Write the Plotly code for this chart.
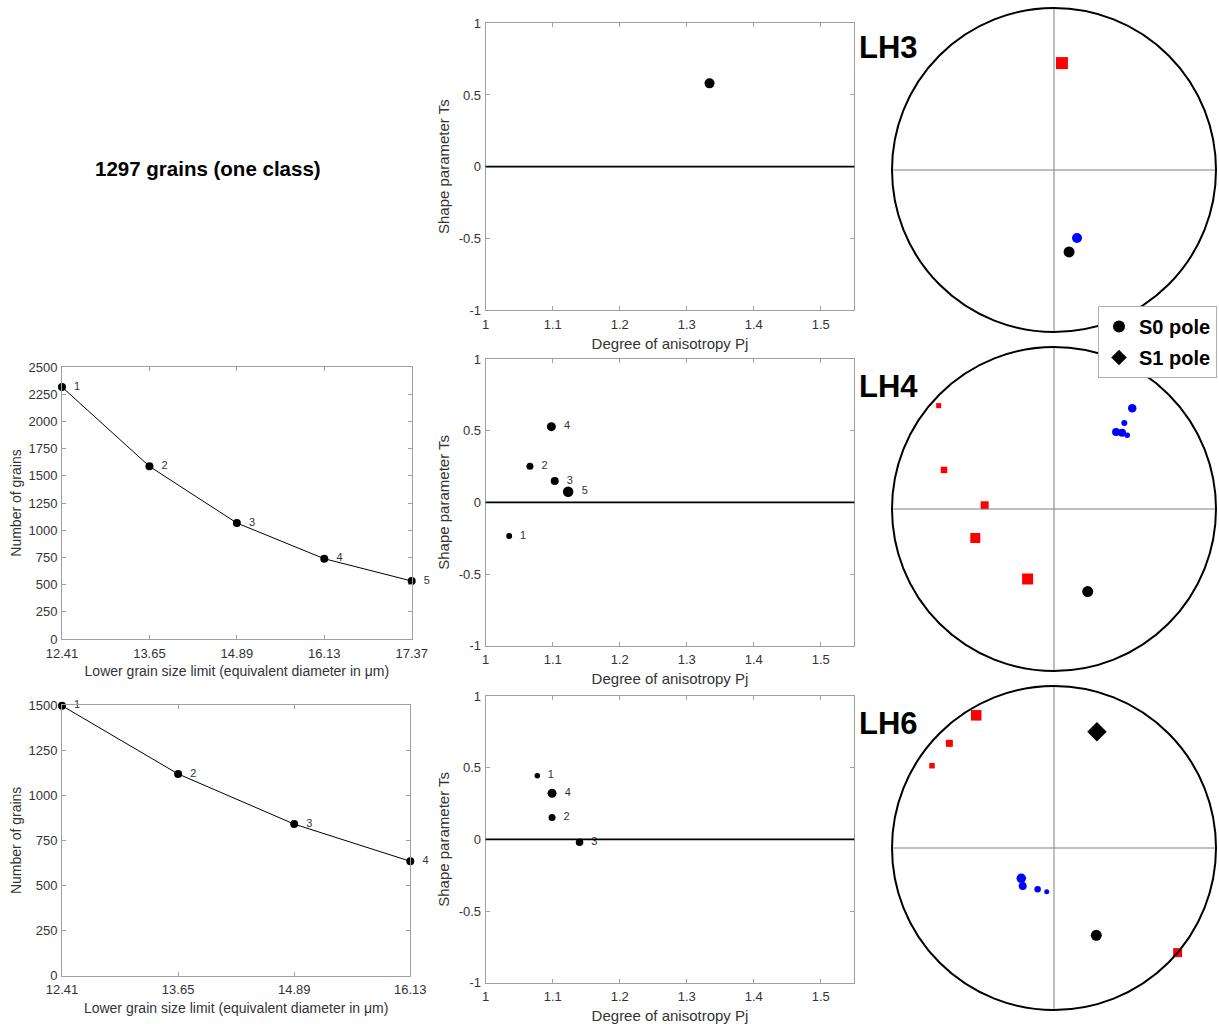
import plotly.graph_objects as go

W, H = 1219, 1027

# ---------------- data ----------------
grain_limits_lh4 = [12.41, 13.65, 14.89, 16.13, 17.37]
grains_lh4 = [2316, 1587, 1066, 738, 533]
grain_limits_lh6 = [12.41, 13.65, 14.89, 16.13]
grains_lh6 = [1496, 1118, 840, 634]

pj_lh3 = [1.334]
ts_lh3 = [0.581]
pj_lh4 = [1.035, 1.066, 1.103, 1.098, 1.123]
ts_lh4 = [-0.235, 0.251, 0.149, 0.528, 0.074]
size_lh4 = [6, 7, 8, 9, 10.5]
pj_lh6 = [1.077, 1.099, 1.140, 1.099]
ts_lh6 = [0.444, 0.153, -0.021, 0.321]
size_lh6 = [5.5, 7, 7.5, 9]

# stereonet projected positions (unit circle)
lh3_red_x, lh3_red_y = [0.049], [0.660]
lh3_blue_x, lh3_blue_y = [0.142], [-0.420]
lh3_s0_x, lh3_s0_y = [0.093], [-0.506]

lh4_red_x = [-0.712, -0.679, -0.428, -0.486, -0.163]
lh4_red_y = [0.638, 0.241, 0.023, -0.179, -0.432]
lh4_red_s = [5, 6.5, 8, 10, 11]
lh4_blue_x = [0.452, 0.434, 0.420, 0.383, 0.483]
lh4_blue_y = [0.456, 0.531, 0.470, 0.475, 0.622]
lh4_blue_s = [5.5, 6, 8, 8, 8.5]
lh4_s0_x, lh4_s0_y = [0.208], [-0.510]

lh6_red_x = [-0.753, -0.646, 0.763, -0.480]
lh6_red_y = [0.508, 0.646, -0.646, 0.819]
lh6_red_s = [5.5, 7, 9, 10.5]
lh6_blue_x = [-0.045, -0.101, -0.193, -0.202]
lh6_blue_y = [-0.270, -0.255, -0.235, -0.187]
lh6_blue_s = [5, 6.5, 8, 9.5]
lh6_s0_x, lh6_s0_y = [0.261], [-0.539]
lh6_s1_x, lh6_s1_y = [0.265], [0.718]

FONT = "Liberation Sans, Arial, sans-serif"
AXC = "#a0a0a0"
TXC = "#333333"


def fx(px):
    return px / W


def fy(py):
    return 1 - py / H


fig = go.Figure()

common_axis = dict(showline=True, linecolor=AXC, linewidth=1, mirror="ticks",
                   ticks="inside", ticklen=4, tickcolor=AXC, showgrid=False,
                   zeroline=False, automargin=False,
                   tickfont=dict(family=FONT, size=13, color=TXC))

layout = dict(width=W, height=H, margin=dict(l=0, r=0, t=0, b=0),
              template="none", paper_bgcolor="white", plot_bgcolor="white",
              font=dict(family=FONT, color=TXC), showlegend=True)

# ---- left plots ----
left_specs = [
    ("x1", "y1", grain_limits_lh4, grains_lh4, (62, 411.7), (367, 639), 2500),
    ("x2", "y2", grain_limits_lh6, grains_lh6, (62, 410.3), (705, 975.7), 1500),
]
for xa, ya, xs, ys, (x0, x1), (y0, y1), ymax in left_specs:
    fig.add_trace(go.Scatter(
        x=xs, y=ys, mode="lines+markers+text", xaxis=xa, yaxis=ya,
        line=dict(color="black", width=1),
        marker=dict(color="black", size=8, opacity=1),
        text=["  " + str(i + 1) for i in range(len(xs))],
        textposition="middle right",
        textfont=dict(family=FONT, size=11, color=TXC),
        cliponaxis=False, showlegend=False))
    n = xa[1:]
    layout["xaxis" + n] = dict(common_axis, domain=[fx(x0), fx(x1)],
                               range=[xs[0], xs[-1]], anchor=ya,
                               tickvals=xs, ticktext=["%.2f" % v for v in xs],
                               ticklabelstandoff=2,
                               title=dict(text="Lower grain size limit (equivalent diameter in μm)",
                                          font=dict(family=FONT, size=14, color=TXC), standoff=6))
    layout["yaxis" + n] = dict(common_axis, domain=[fy(y1), fy(y0)],
                               range=[0, ymax], anchor=xa, dtick=250,
                               ticklabelstandoff=1,
                               title=dict(text="Number of grains",
                                          font=dict(family=FONT, size=14, color=TXC), standoff=3))

# ---- middle plots ----
mid_specs = [
    ("x3", "y3", pj_lh3, ts_lh3, [10], (23.3, 310)),
    ("x4", "y4", pj_lh4, ts_lh4, size_lh4, (359, 645.7)),
    ("x5", "y5", pj_lh6, ts_lh6, size_lh6, (696, 982.7)),
]
shapes = []
for xa, ya, xs, ys, sz, (y0, y1) in mid_specs:
    labels = ["  " + str(i + 1) for i in range(len(xs))] if len(xs) > 1 else None
    fig.add_trace(go.Scatter(
        x=xs, y=ys, mode="markers+text" if labels else "markers",
        xaxis=xa, yaxis=ya,
        marker=dict(color="black", size=sz, opacity=1, line=dict(width=0)),
        text=labels, textposition="middle right",
        textfont=dict(family=FONT, size=11, color=TXC),
        cliponaxis=False, showlegend=False))
    n = xa[1:]
    layout["xaxis" + n] = dict(common_axis, domain=[fx(485.7), fx(854.3)],
                               range=[1, 1.55], anchor=ya,
                               tickvals=[1, 1.1, 1.2, 1.3, 1.4, 1.5],
                               ticktext=["1", "1.1", "1.2", "1.3", "1.4", "1.5"],
                               ticklabelstandoff=2,
                               title=dict(text="Degree of anisotropy Pj",
                                          font=dict(family=FONT, size=15, color=TXC), standoff=7))
    layout["yaxis" + n] = dict(common_axis, domain=[fy(y1), fy(y0)],
                               range=[-1, 1], anchor=xa,
                               tickvals=[-1, -0.5, 0, 0.5, 1],
                               ticktext=["-1", "-0.5", "0", "0.5", "1"],
                               ticklabelstandoff=1,
                               title=dict(text="Shape parameter Ts",
                                          font=dict(family=FONT, size=15, color=TXC), standoff=5))
    shapes.append(dict(type="line", xref=xa + " domain", yref=ya,
                       x0=0, x1=1, y0=0, y1=0, line=dict(color="black", width=1.6)))

# ---- stereonets ----
R = 1.01
ster_specs = [
    ("x6", "y6", 170, "LH3",
     (lh3_red_x, lh3_red_y, [12]), (lh3_blue_x, lh3_blue_y, [10]),
     (lh3_s0_x, lh3_s0_y), None),
    ("x7", "y7", 509, "LH4",
     (lh4_red_x, lh4_red_y, lh4_red_s), (lh4_blue_x, lh4_blue_y, lh4_blue_s),
     (lh4_s0_x, lh4_s0_y), None),
    ("x8", "y8", 848, "LH6",
     (lh6_red_x, lh6_red_y, lh6_red_s), (lh6_blue_x, lh6_blue_y, lh6_blue_s),
     (lh6_s0_x, lh6_s0_y), (lh6_s1_x, lh6_s1_y)),
]
annotations = []
cx, rpx = 1054, 162
for k, (xa, ya, cy, name, red, blue, s0, s1) in enumerate(ster_specs):
    n = xa[1:]
    half = rpx * R
    layout["xaxis" + n] = dict(domain=[fx(cx - half), min(1, fx(cx + half))],
                               range=[-R, R], anchor=ya, visible=False, automargin=False)
    layout["yaxis" + n] = dict(domain=[fy(cy + half), fy(cy - half)],
                               range=[-R, R], anchor=xa, visible=False, automargin=False)
    shapes.append(dict(type="line", xref=xa, yref=ya, x0=-1, x1=1, y0=0, y1=0,
                       line=dict(color="#808080", width=1)))
    shapes.append(dict(type="line", xref=xa, yref=ya, x0=0, x1=0, y0=-1, y1=1,
                       line=dict(color="#808080", width=1)))
    shapes.append(dict(type="circle", xref=xa, yref=ya, x0=-1, x1=1, y0=-1, y1=1,
                       line=dict(color="black", width=2)))
    fig.add_trace(go.Scatter(x=red[0], y=red[1], mode="markers", xaxis=xa, yaxis=ya,
                             marker=dict(symbol="square", color="#ff0000", size=red[2],
                                         opacity=1, line=dict(width=0)),
                             cliponaxis=False, showlegend=False))
    fig.add_trace(go.Scatter(x=blue[0], y=blue[1], mode="markers", xaxis=xa, yaxis=ya,
                             marker=dict(symbol="circle", color="#0000ff", size=blue[2],
                                         opacity=1, line=dict(width=0)),
                             cliponaxis=False, showlegend=False))
    fig.add_trace(go.Scatter(x=s0[0], y=s0[1], mode="markers", xaxis=xa, yaxis=ya,
                             marker=dict(symbol="circle", color="black", size=11, opacity=1),
                             name="S0 pole", legendgroup="s0", showlegend=(k == 0),
                             cliponaxis=False))
    if s1 is not None:
        fig.add_trace(go.Scatter(x=s1[0], y=s1[1], mode="markers", xaxis=xa, yaxis=ya,
                                 marker=dict(symbol="diamond", color="black", size=15, opacity=1),
                                 name="S1 pole", legendgroup="s1", showlegend=True,
                                 cliponaxis=False))
    label_y = {"LH3": 48, "LH4": 386, "LH6": 723}[name]
    annotations.append(dict(text="<b>%s</b>" % name, xref="paper", yref="paper",
                            x=fx(857), y=fy(label_y), xanchor="left", yanchor="middle",
                            showarrow=False, font=dict(family=FONT, size=31, color="black")))

annotations.append(dict(text="<b>1297 grains (one class)</b>", xref="paper", yref="paper",
                        x=fx(208), y=fy(168), xanchor="center", yanchor="middle",
                        showarrow=False, font=dict(family=FONT, size=20.5, color="black")))

layout["shapes"] = shapes
layout["annotations"] = annotations
layout["legend"] = dict(x=fx(1098), y=fy(306), xanchor="left", yanchor="top",
                        bgcolor="white", bordercolor="#b0b0b0", borderwidth=1,
                        font=dict(family=FONT, size=20, color="black", weight="bold"),
                        itemsizing="constant", tracegroupgap=2, itemwidth=30,
                        traceorder="grouped")

fig.update_layout(**layout)
fig.write_html("out.html", config={"displayModeBar": False},
               post_script="document.body.style.margin='0';")
